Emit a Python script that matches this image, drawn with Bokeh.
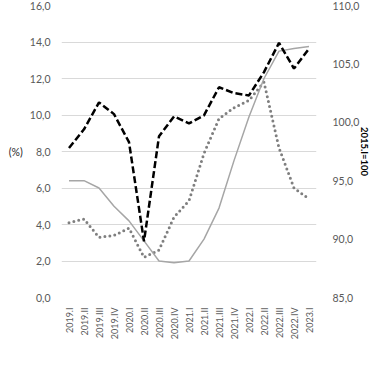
import math
from bokeh.plotting import figure
from bokeh.models import (FactorRange, Range1d, LinearAxis, FixedTicker,
                          CustomJSTickFormatter, Legend, LegendItem, ColumnDataSource)
from bokeh.embed import file_html
from bokeh.resources import INLINE

quarters = ["2019.I", "2019.II", "2019.III", "2019.IV",
            "2020.I", "2020.II", "2020.III", "2020.IV",
            "2021.I", "2021.II", "2021.III", "2021.IV",
            "2022.I", "2022.II", "2022.III", "2022.IV", "2023.I"]
ipca = [4.1, 4.3, 3.3, 3.4, 3.8, 2.2, 2.6, 4.4, 5.3, 7.9, 9.8, 10.4, 10.8, 11.8, 8.2, 6.0, 5.4]
juros = [6.4, 6.4, 6.0, 5.0, 4.2, 3.1, 2.0, 1.9, 2.0, 3.2, 4.9, 7.5, 9.9, 12.0, 13.5, 13.65, 13.75]
pib = [97.8, 99.4, 101.7, 100.7, 98.3, 89.8, 98.8, 100.5, 99.9, 100.6, 103.0, 102.5,
       102.3, 104.3, 106.8, 104.6, 106.3]
left_ticks = [0, 2, 4, 6, 8, 10, 12, 14, 16]
right_ticks = [85, 90, 95, 100, 105, 110]

src = ColumnDataSource(dict(q=quarters, ipca=ipca, juros=juros, pib=pib))

FONT = "Lato"
GRAY = "#595959"

p = figure(frame_width=255, frame_height=292, x_range=FactorRange(*quarters),
           y_range=Range1d(0, 16), output_backend="svg", toolbar_location=None,
           min_border_left=61, min_border_right=60, min_border_top=5, min_border_bottom=10)
p.extra_y_ranges = {"pib": Range1d(85, 110)}
p.outline_line_color = None
p.background_fill_color = "white"
p.border_fill_color = "white"

fmt = CustomJSTickFormatter(code="return tick.toFixed(1).replace('.', ',');")

# left axis
ya = p.yaxis[0]
ya.ticker = FixedTicker(ticks=left_ticks)
ya.formatter = fmt
ya.axis_line_color = None
ya.major_tick_line_color = None
ya.minor_tick_line_color = None
ya.major_label_text_font = FONT
ya.major_label_text_font_size = "10.5px"
ya.major_label_text_color = GRAY
ya.major_label_standoff = 5
ya.axis_label = "(%)"
ya.axis_label_orientation = "horizontal"
ya.axis_label_text_font = FONT
ya.axis_label_text_font_size = "10.5px"
ya.axis_label_text_font_style = "normal"
ya.axis_label_text_color = "#262626"
ya.axis_label_standoff = 4

# right axis
ra = LinearAxis(y_range_name="pib", ticker=FixedTicker(ticks=right_ticks), formatter=fmt)
ra.axis_line_color = None
ra.major_tick_line_color = None
ra.minor_tick_line_color = None
ra.major_label_text_font = FONT
ra.major_label_text_font_size = "10.5px"
ra.major_label_text_color = GRAY
ra.major_label_standoff = 10
ra.axis_label = "2015.I=100"
ra.axis_label_text_font = FONT
ra.axis_label_text_font_size = "9.5px"
ra.axis_label_text_font_style = "bold"
ra.axis_label_text_color = "#000000"
ra.axis_label_standoff = -3
p.add_layout(ra, "right")

# x axis
xa = p.xaxis[0]
xa.axis_line_color = None
xa.major_tick_line_color = None
xa.minor_tick_line_color = None
xa.major_label_orientation = math.pi / 2
xa.major_label_text_font = FONT
xa.major_label_text_font_size = "9px"
xa.major_label_text_color = GRAY
xa.major_label_standoff = 4

p.xgrid.grid_line_color = None
p.ygrid.grid_line_color = "#d9d9d9"
p.ygrid.grid_line_width = 1
p.ygrid.ticker = FixedTicker(ticks=left_ticks)

r_ipca = p.line("q", "ipca", source=src, line_color="#7f7f7f", line_width=3,
                line_dash="0 5", line_cap="round")
r_juros = p.line("q", "juros", source=src, line_color="#a6a6a6", line_width=1.5)
r_pib = p.line("q", "pib", source=src, y_range_name="pib", line_color="#000000",
               line_width=2.5, line_dash="7 3")

legend = Legend(items=[LegendItem(label="IPCA (%)", renderers=[r_ipca]),
                       LegendItem(label="Taxa de juros (%)", renderers=[r_juros]),
                       LegendItem(label="Índice PIB (2015.I=100)", renderers=[r_pib])],
                orientation="horizontal", location="center",
                label_text_font=FONT, label_text_font_size="10.5px", label_text_color=GRAY,
                glyph_width=24, glyph_height=10, label_height=12, label_standoff=2, spacing=9,
                padding=0, margin=0, border_line_color=None, background_fill_alpha=0)
p.add_layout(legend, "below")

open("out.html", "w").write(file_html(p, INLINE))
